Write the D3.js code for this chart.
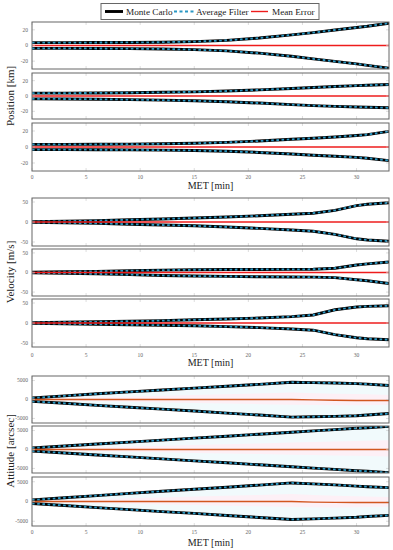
<!DOCTYPE html>
<html><head><meta charset="utf-8">
<script src="https://cdn.jsdelivr.net/npm/d3@7"></script>
<style>body{margin:0;background:#fff}svg{display:block}</style>
</head><body><div id="chart"></div>
<script>
// ---------- DATA ----------
const times = [0,3,6,9,12,15,18,21,24,26,28,30,31,33];
const xTicks = [0,5,10,15,20,25,30];
const legendLabels = ["Monte Carlo","Average Filter","Mean Error"];
const groupTitles = ["Position [km]","Velocity [m/s]","Attitude [arcsec]"];
const xTitle = "MET [min]";
const posTicks = [-20,0,20];
const velTicks = [-50,0,50];
const attTicks = [-5000,0,5000];

// Position (km)
const pos1Upper = [3.7,3.7,3.8,3.9,4.2,5.0,6.5,9.5,13.5,16.5,19.8,23,24.6,28.5];
const pos1Lower = [-3.7,-3.7,-3.8,-4,-4.4,-5.3,-6.8,-9.8,-13.8,-17,-20.3,-23.5,-25.3,-29];
const pos1Mean  = [0,0,0,0,0,0,0,0,0,0,0,0,0,0];
const pos2Upper = [3.7,3.8,4,4.3,4.8,5.4,6.5,8,9.8,11,12.3,13.5,14,15];
const pos2Lower = [-3.7,-3.9,-4.2,-4.7,-5.4,-6.2,-7.5,-9.2,-11.3,-12.5,-13.5,-14.3,-14.7,-15.4];
const pos2Mean  = [0,0,0,0,0,0,0,0,0,0,0,0,0,0];
const pos3Upper = [3.3,3.3,3.4,3.6,4,4.6,5.8,7.5,9.6,11,12.5,14.3,15.5,19.5];
const pos3Lower = [-3.3,-3.3,-3.4,-3.6,-3.9,-4.3,-5.3,-6.8,-8.8,-10.3,-11.6,-13,-14,-17];
const pos3Mean  = [0,0,0,0,0,0,0,0,0,0,0,0,0,0];

// Velocity (m/s)
const vel1Upper = [1,2,3.5,5.5,7.5,10,12.5,15.5,19.5,22,29,41,44.5,48];
const vel1Lower = [-1,-2,-3.5,-5.5,-7.5,-9.5,-12.5,-16,-20,-23,-31,-42,-45,-48];
const vel1Mean  = [0,0,0,0,0,0,0,0,0,0,0,0,0,0];
const vel2Upper = [1,2,3,4.5,6,7,7.5,7.8,8,8.3,11,19,22,27];
const vel2Lower = [-1,-2,-3.5,-5.5,-7.5,-9,-10,-10.8,-11.3,-11.7,-13,-18.5,-21,-28];
const vel2Mean  = [0,0,0,0,0,0,0,0,0,0,0,0,0,0];
const vel3Upper = [1,2,3,4.5,6,8,10,12.5,16,20,33,40,41.5,43];
const vel3Lower = [-1,-2,-3,-4.5,-5.5,-7,-9,-11.5,-15,-18,-29,-37,-39.5,-41.7];
const vel3Mean  = [0,0,0,0,0,0,0,0,0,0,0,0,0,0];

// Attitude (arcsec)
const att1Upper = [400,950,1500,2000,2500,3000,3500,4000,4550,4450,4350,4200,4050,3700];
const att1Lower = [-500,-1000,-1550,-2050,-2550,-3050,-3600,-4100,-4650,-4550,-4450,-4300,-4100,-3700];
const att1Mean  = [0,0,0,0,0,0,0,0,0,-100,-200,-250,-260,-280];
const att2Upper = [400,920,1440,1950,2470,2990,3510,4030,4550,4900,5250,5600,5750,6100];
const att2Lower = [-400,-920,-1440,-1950,-2470,-2990,-3510,-4030,-4550,-4900,-5250,-5600,-5750,-6100];
const att2Mean  = [0,0,0,0,0,0,0,0,0,0,0,0,0,0];
const att3Upper = [400,950,1500,2050,2600,3100,3600,4150,4700,4450,4200,3900,3750,3500];
const att3Lower = [-500,-1000,-1550,-2050,-2550,-3000,-3550,-4050,-4550,-4400,-4200,-4000,-3800,-3500];
const att3Mean  = [0,0,0,0,0,0,0,0,0,-150,-230,-250,-250,-260];

// ---------- LAYOUT ----------
const W = 393, H = 550;
const left = 32, right = 389;
const serif = "'Liberation Serif','Times New Roman',serif";

const groups = [
  {title: groupTitles[0], ticks: posTicks, domain: [-30,30], shade:false,
   panels: [[22,69,pos1Upper,pos1Lower,pos1Mean],[73,119,pos2Upper,pos2Lower,pos2Mean],[123,171,pos3Upper,pos3Lower,pos3Mean]],
   tickLabelY: 177, xTitleY: 189, titleY: 96},
  {title: groupTitles[1], ticks: velTicks, domain: [-60,60], shade:false,
   panels: [[198,246,vel1Upper,vel1Lower,vel1Mean],[249,296,vel2Upper,vel2Lower,vel2Mean],[299,347,vel3Upper,vel3Lower,vel3Mean]],
   tickLabelY: 355, xTitleY: 366, titleY: 272},
  {title: groupTitles[2], ticks: attTicks, domain: [-6200,6200], shade:true,
   panels: [[376,423,att1Upper,att1Lower,att1Mean],[426,473,att2Upper,att2Lower,att2Mean],[477,526,att3Upper,att3Lower,att3Mean]],
   tickLabelY: 532, xTitleY: 546, titleY: 451}
];

const svg = d3.select("#chart").append("svg").attr("width",W).attr("height",H);
const x = d3.scaleLinear().domain([0,33]).range([left,right]);

let clipId = 0;
groups.forEach((g,gi)=>{
  g.panels.forEach((p,pi)=>{
    const [top,bottom,up,lo,mean] = p;
    const y = d3.scaleLinear().domain(g.domain).range([bottom,top]);
    const id = "clip"+(clipId++);
    svg.append("clipPath").attr("id",id).append("rect")
      .attr("x",left).attr("y",top).attr("width",right-left).attr("height",bottom-top);
    const pg = svg.append("g");
    const data = times.map((t,i)=>({t,u:up[i],l:lo[i],m:mean[i]}));
    const cg = pg.append("g").attr("clip-path","url(#"+id+")");
    if (g.shade) {
      cg.append("path").datum(data).attr("fill","#f1fafc")
        .attr("d",d3.area().x(d=>x(d.t)).y0(d=>y(d.l)).y1(d=>y(d.u)));
      cg.append("path").datum(data).attr("fill","#fdf0f6")
        .attr("d",d3.area().x(d=>x(d.t)).y0(d=>y(d.m+d.l*0.3)).y1(d=>y(d.m+d.u*0.4)));
    }
    // tick marks
    const tk = pg.append("g").attr("stroke","#c8c8c8").attr("stroke-width",0.6);
    xTicks.forEach(t=>{
      tk.append("line").attr("x1",x(t)).attr("x2",x(t)).attr("y1",top).attr("y2",top+3);
      tk.append("line").attr("x1",x(t)).attr("x2",x(t)).attr("y1",bottom).attr("y2",bottom-3);
    });
    g.ticks.forEach(t=>{
      tk.append("line").attr("x1",left).attr("x2",left+3).attr("y1",y(t)).attr("y2",y(t));
      tk.append("line").attr("x1",right).attr("x2",right-3).attr("y1",y(t)).attr("y2",y(t));
      pg.append("text").attr("x",left-4).attr("y",y(t)).attr("dy","0.35em")
        .attr("text-anchor","end").attr("font-family",serif).attr("font-size",5.5)
        .attr("fill","#666").text(t);
    });
    const line = key => d3.line().x(d=>x(d.t)).y(d=>y(d[key]));
    ["u","l"].forEach(k=>{
      cg.append("path").datum(data).attr("fill","none").attr("stroke","#000")
        .attr("stroke-width",2.9).attr("d",line(k));
      cg.append("path").datum(data).attr("fill","none").attr("stroke","#2a98c4")
        .attr("stroke-width",1.8).attr("stroke-dasharray","2.6,2.6").attr("d",line(k));
    });
    cg.append("path").datum(data).attr("fill","none")
      .attr("stroke", g.shade ? "#d2561f" : "#ee1c1c")
      .attr("stroke-width",1.4).attr("d",line("m"));
    pg.append("rect").attr("x",left).attr("y",top).attr("width",right-left).attr("height",bottom-top)
      .attr("fill","none").attr("stroke","#666").attr("stroke-width",1);
  });
  // x tick labels
  xTicks.forEach(t=>{
    svg.append("text").attr("x",x(t)).attr("y",g.tickLabelY).attr("dy","0.35em")
      .attr("text-anchor","middle").attr("font-family",serif).attr("font-size",5.5)
      .attr("fill","#666").text(t);
  });
  svg.append("text").attr("x",(left+right)/2).attr("y",g.xTitleY).attr("text-anchor","middle")
    .attr("font-family",serif).attr("font-size",10).attr("fill","#222").text(xTitle);
  svg.append("text").attr("transform",`translate(14,${g.titleY}) rotate(-90)`)
    .attr("text-anchor","middle").attr("font-family",serif).attr("font-size",11)
    .attr("fill","#222").text(g.title);
});

// ---------- LEGEND ----------
const lg = svg.append("g");
lg.append("rect").attr("x",101).attr("y",3.5).attr("width",218).attr("height",16)
  .attr("fill","#fff").attr("stroke","#666").attr("stroke-width",1);
const ly = 11.5;
lg.append("line").attr("x1",105).attr("x2",123).attr("y1",ly).attr("y2",ly).attr("stroke","#000").attr("stroke-width",2.9);
lg.append("line").attr("x1",174).attr("x2",194).attr("y1",ly).attr("y2",ly).attr("stroke","#2a98c4").attr("stroke-width",1.8).attr("stroke-dasharray","3,2.5");
lg.append("line").attr("x1",251).attr("x2",268).attr("y1",ly).attr("y2",ly).attr("stroke","#ee1c1c").attr("stroke-width",1.4);
[[126,legendLabels[0]],[196,legendLabels[1]],[272,legendLabels[2]]].forEach(([lx,txt])=>{
  lg.append("text").attr("x",lx).attr("y",ly).attr("dy","0.35em").attr("font-family",serif)
    .attr("font-size",9.2).attr("fill","#222").text(txt);
});
</script></body></html>
